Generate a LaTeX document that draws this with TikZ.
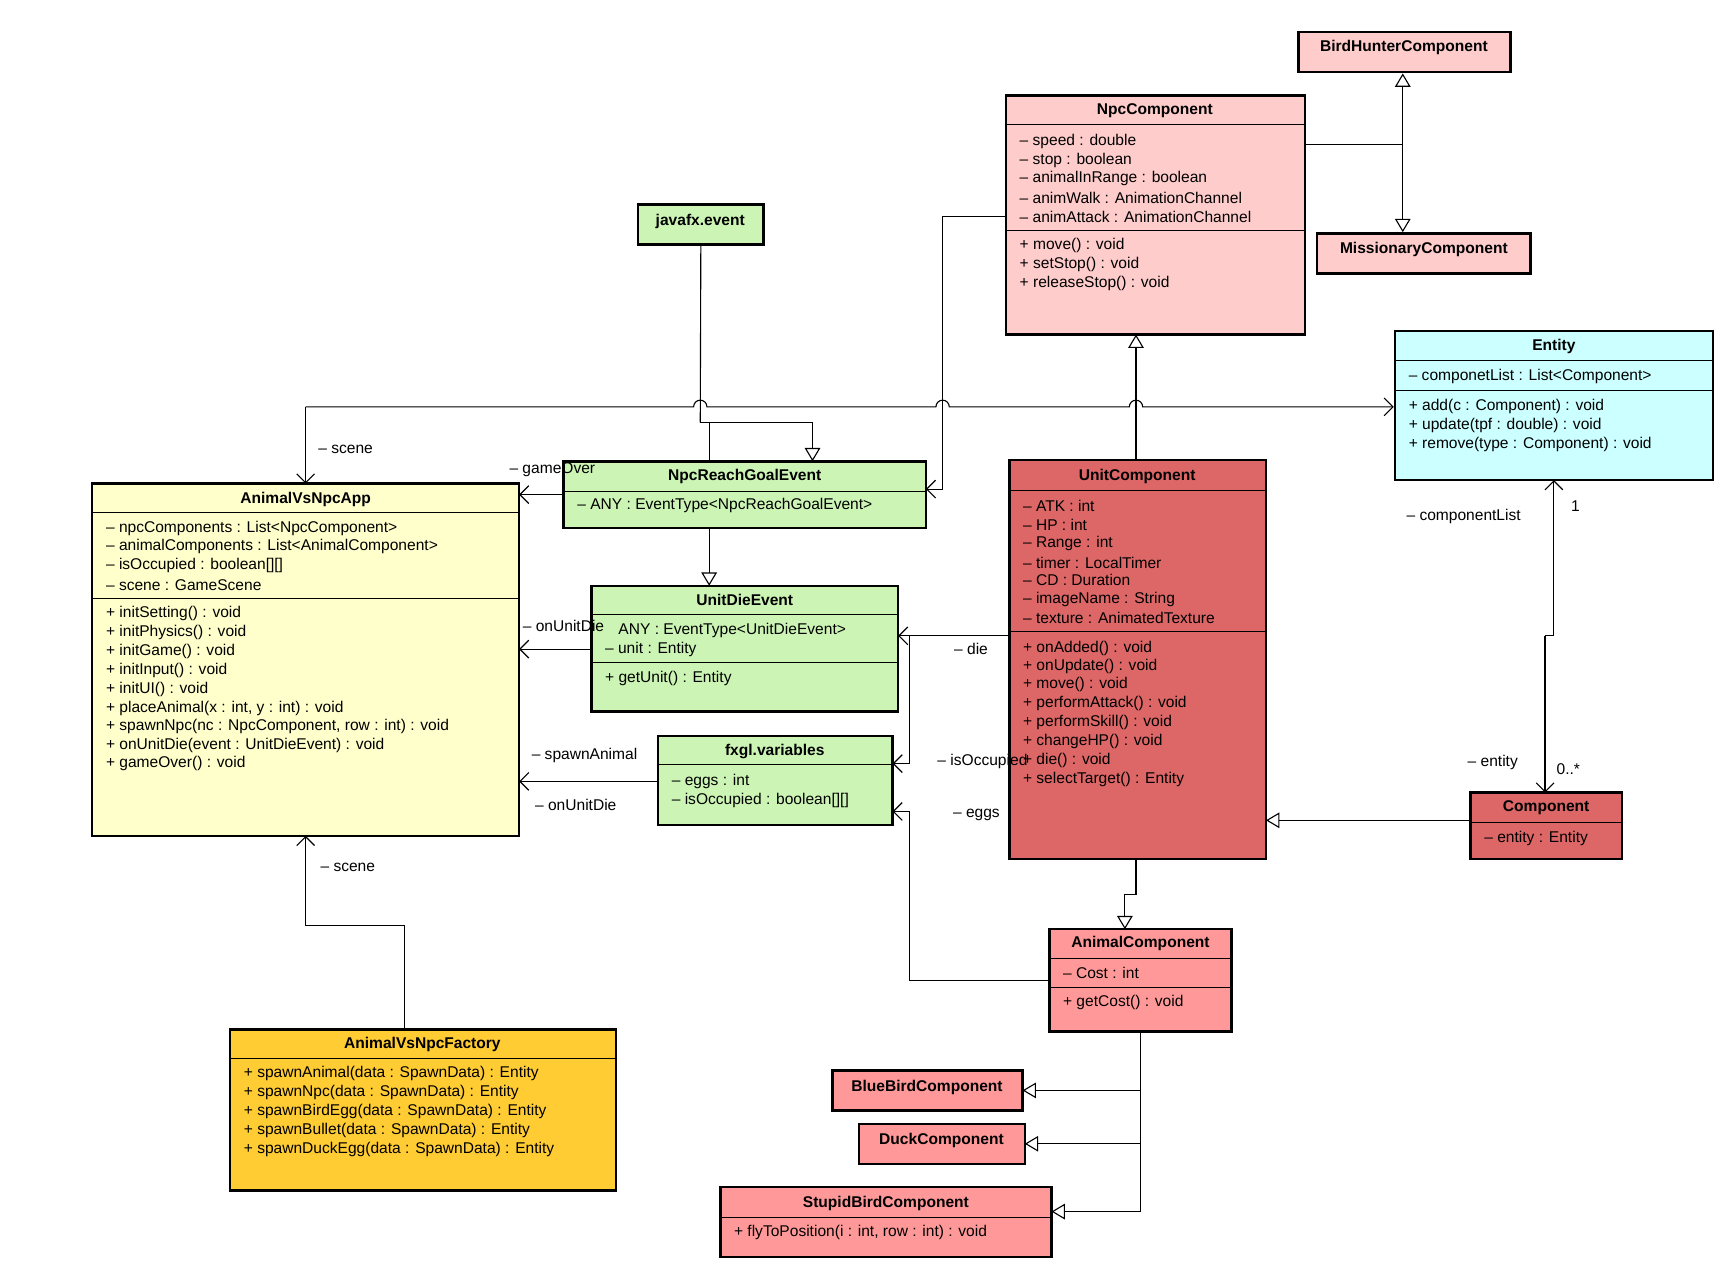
\documentclass[tikz,border=0pt]{standalone}
\usepackage{fontspec}
\setmainfont{Liberation Sans}
\usetikzlibrary{fit,arrows.meta}
\definecolor{pinkL}{HTML}{FFCCCC}
\definecolor{redM}{HTML}{DD6666}
\definecolor{redL}{HTML}{FF9999}
\definecolor{greenL}{HTML}{CCF5B5}
\definecolor{yelL}{HTML}{FFFFCC}
\definecolor{cyanL}{HTML}{CCFFFF}
\definecolor{orangeF}{HTML}{FFCC33}
\newcommand\ubox[6]{\node[fit={(#2,#3)(#4,#5)}, inner sep=0, draw, line width=1.1pt, fill=#6] (#1) {};}
\newcommand\usep[3]{\draw[line width=0.4pt] (#1,#3)--(#2,#3);}
\newcommand\ttl[3]{\node[ttl] at (#1,#2) {#3};}
\newcommand\mln[3]{\node[mln] at (#1,#2) {#3};}
\begin{document}
\begin{tikzpicture}[x=0.5pt,y=-0.5pt,
 ttl/.style={font=\fontsize{7}{8}\selectfont\bfseries, inner sep=0},
 mln/.style={font=\fontsize{7}{8}\selectfont, anchor=west, inner sep=0},
 con/.style={line width=0.5pt},
 gen/.style={con,-{Triangle[open,length=6pt,width=7pt]}},
 asc/.style={con,-{Straight Barb[length=4pt,width=8pt]}}]
\useasboundingbox (0,0) rectangle (1560,1155);
% boxes
\ubox{bh}{1168}{29}{1359}{65}{pinkL}\ttl{1263}{43}{BirdHunterComponent}
\ubox{npc}{905}{86}{1174}{301}{pinkL}\ttl{1039}{100}{NpcComponent}
\usep{905}{1174}{112}\usep{905}{1174}{207}
\mln{917}{127}{– speed : double}\mln{917}{144}{– stop : boolean}\mln{917}{161}{– animalInRange : boolean}
\mln{917}{178}{– animWalk : AnimationChannel}\mln{917}{195}{– animAttack : AnimationChannel}
\mln{917}{221}{+ move() : void}\mln{917}{238}{+ setStop() : void}\mln{917}{255}{+ releaseStop() : void}
\ubox{mis}{1185}{210}{1377}{246}{pinkL}\ttl{1281}{224}{MissionaryComponent}
\ubox{jfx}{574}{184}{687}{220}{greenL}\ttl{630}{199}{javafx.event}
\ubox{ent}{1255}{298}{1541}{432}{cyanL}\ttl{1398}{312}{Entity}
\usep{1255}{1541}{324}\usep{1255}{1541}{351}
\mln{1267}{339}{– componetList : List<Component>}
\mln{1267}{366}{+ add(c : Component) : void}\mln{1267}{383}{+ update(tpf : double) : void}\mln{1267}{400}{+ remove(type : Component) : void}
\ubox{app}{83}{435}{467}{752}{yelL}\ttl{275}{449}{AnimalVsNpcApp}
\usep{83}{467}{461}\usep{83}{467}{538}
\mln{95}{475}{– npcComponents : List<NpcComponent>}\mln{95}{492}{– animalComponents : List<AnimalComponent>}
\mln{95}{509}{– isOccupied : boolean[][]}\mln{95}{526}{– scene : GameScene}
\mln{95}{552}{+ initSetting() : void}\mln{95}{569}{+ initPhysics() : void}\mln{95}{586}{+ initGame() : void}
\mln{95}{603}{+ initInput() : void}\mln{95}{620}{+ initUI() : void}\mln{95}{637}{+ placeAnimal(x : int, y : int) : void}
\mln{95}{654}{+ spawnNpc(nc : NpcComponent, row : int) : void}\mln{95}{671}{+ onUnitDie(event : UnitDieEvent) : void}
\mln{95}{687}{+ gameOver() : void}
\ubox{nrg}{507}{415}{833}{475}{greenL}\ttl{670}{429}{NpcReachGoalEvent}
\usep{507}{833}{442}\mln{519}{455}{– ANY : EventType<NpcReachGoalEvent>}
\ubox{unit}{908}{414}{1139}{773}{redM}\ttl{1023}{429}{UnitComponent}
\usep{908}{1139}{441}\usep{908}{1139}{568}
\mln{920}{455}{– ATK : int}\mln{920}{472}{– HP : int}\mln{920}{489}{– Range : int}\mln{920}{506}{– timer : LocalTimer}
\mln{920}{522}{– CD : Duration}\mln{920}{539}{– imageName : String}\mln{920}{556}{– texture : AnimatedTexture}
\mln{920}{583}{+ onAdded() : void}\mln{920}{600}{+ onUpdate() : void}\mln{920}{616}{+ move() : void}
\mln{920}{633}{+ performAttack() : void}\mln{920}{650}{+ performSkill() : void}\mln{920}{667}{+ changeHP() : void}
\mln{920}{684}{+ die() : void}\mln{920}{701}{+ selectTarget() : Entity}
\ubox{ude}{532}{527}{808}{640}{greenL}\ttl{670}{540}{UnitDieEvent}
\usep{532}{808}{553}\usep{532}{808}{596}
\mln{556}{567}{ANY : EventType<UnitDieEvent>}\mln{544}{584}{– unit : Entity}\mln{544}{610}{+ getUnit() : Entity}
\ubox{fxv}{592}{662}{803}{742}{greenL}\ttl{697}{676}{fxgl.variables}
\usep{592}{803}{688}\mln{604}{703}{– eggs : int}\mln{604}{720}{– isOccupied : boolean[][]}
\ubox{comp}{1323}{713}{1459}{773}{redM}\ttl{1391}{727}{Component}
\usep{1323}{1459}{740}\mln{1335}{754}{– entity : Entity}
\ubox{ani}{944}{836}{1108}{928}{redL}\ttl{1026}{849}{AnimalComponent}
\usep{944}{1108}{862}\usep{944}{1108}{888}
\mln{956}{875}{– Cost : int}\mln{956}{902}{+ getCost() : void}
\ubox{blue}{749}{963}{920}{999}{redL}\ttl{834}{978}{BlueBirdComponent}
\ubox{duck}{773}{1011}{922}{1047}{redL}\ttl{847}{1026}{DuckComponent}
\ubox{stu}{648}{1068}{946}{1131}{redL}\ttl{797}{1083}{StupidBirdComponent}
\usep{648}{946}{1095}\mln{660}{1109}{+ flyToPosition(i : int, row : int) : void}
\ubox{fac}{207}{926}{554}{1071}{orangeF}\ttl{380}{940}{AnimalVsNpcFactory}
\usep{207}{554}{952}
\mln{219}{966}{+ spawnAnimal(data : SpawnData) : Entity}\mln{219}{983}{+ spawnNpc(data : SpawnData) : Entity}
\mln{219}{1000}{+ spawnBirdEgg(data : SpawnData) : Entity}\mln{219}{1017}{+ spawnBullet(data : SpawnData) : Entity}
\mln{219}{1034}{+ spawnDuckEgg(data : SpawnData) : Entity}
% connectors
\coordinate (j1) at (1262,130);
\draw[con] (npc.east |- 0,130) -- (j1);
\draw[gen] (j1) -- (j1 |- bh.south);
\draw[gen] (j1) -- (j1 |- mis.north);
\draw[gen] (unit.north -| 1022,0) -- (1022,301);
\draw[asc] (275,366) -- (275,435);
\draw[asc] (275,366) -- (624,366) arc[start angle=180,end angle=0,radius=3pt] -- (842,366) arc[start angle=180,end angle=0,radius=3pt] -- (1016,366) arc[start angle=180,end angle=0,radius=3pt] -- (ent.west |- 0,366);
\coordinate (jf) at (630,380);
\draw[con] (jfx.south) -- (jf);
\draw[gen] (jf) -- (638,380) -- (731,380) -- (731,415);
\draw[con] (638,380) -- (638,415);
\draw[gen] (638,475) -- (638,527);
\draw[asc] (905,195) -- (848,195) -- (848,440) -- (833,440);
\draw[asc] (507,445) -- (467,445);
\node[mln] at (458,423) {– gameOver};
\draw[asc] (532,584) -- (467,584);
\node[mln] at (470,563) {– onUnitDie};
\draw[asc] (592,703) -- (467,703);
\node[mln] at (478,680) {– spawnAnimal};
\node[mln] at (481,724) {– onUnitDie};
\draw[asc] (908,572) -- (808,572);
\node[mln] at (858,584) {– die};
\draw[asc] (818,572) -- (818,687) -- (803,687);
\node[mln] at (843,685) {– isOccupied};
\draw[asc] (944,882) -- (818,882) -- (818,730) -- (803,730);
\node[mln] at (857,733) {– eggs};
\draw[gen] (1323,738) -- (1139,738);
\draw[asc] (1390,572) -- (1398,572) -- (1398,432);
\draw[asc] (1390,572) -- (1390,713);
\node[mln] at (1265,465) {– componentList};
\node[mln] at (1413,455) {1};
\node[mln] at (1320,686) {– entity};
\node[mln] at (1400,692) {0..*};
\draw[gen] (1022,773) -- (1022,805) -- (1012,805) -- (1012,836);
\draw[con] (1026,928) -- (1026,1090);
\draw[gen] (1026,981) -- (920,981);
\draw[gen] (1026,1029) -- (922,1029);
\draw[gen] (1026,1090) -- (946,1090);
\draw[asc] (364,926) -- (364,833) -- (275,833) -- (275,752);
\node[mln] at (286,404) {– scene};
\node[mln] at (288,780) {– scene};
\end{tikzpicture}
\end{document}
